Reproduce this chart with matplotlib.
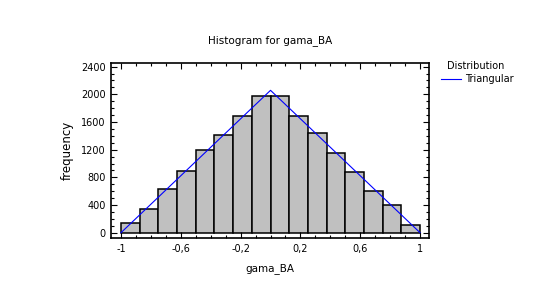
import matplotlib
matplotlib.use("Agg")
import matplotlib.pyplot as plt
from matplotlib.ticker import MultipleLocator, FixedLocator, FuncFormatter
import numpy as np

# Data
bin_edges = [-1.0, -0.875, -0.75, -0.625, -0.5, -0.375, -0.25, -0.125, 0.0,
             0.125, 0.25, 0.375, 0.5, 0.625, 0.75, 0.875, 1.0]
counts = [135, 337, 627, 887, 1195, 1407, 1682, 1971,
          1971, 1682, 1436, 1147, 872, 598, 395, 106]
fit_x = [-1.0, 0.0, 1.0]
fit_y = [0, 2058, 0]
xticks = [-1, -0.6, -0.2, 0.2, 0.6, 1]
yticks = [0, 400, 800, 1200, 1600, 2000, 2400]

plt.rcParams['font.family'] = ['DejaVu Sans']

fig = plt.figure(figsize=(5.4, 3.0), dpi=100)
ax = fig.add_axes([111/540, 1-238/300, (429-111)/540, (238-63)/300])

lefts = np.array(bin_edges[:-1])
widths = np.diff(bin_edges)
ax.bar(lefts, counts, width=widths, align='edge', color='#c0c0c0',
       edgecolor='black', linewidth=1.1)
line, = ax.plot(fit_x, fit_y, color='#0000ff', linewidth=0.8)

ax.set_xlim(-1.067, 1.06)
ax.set_ylim(-77, 2453)

ax.xaxis.set_major_locator(FixedLocator(xticks))
ax.xaxis.set_minor_locator(MultipleLocator(0.1))
ax.yaxis.set_major_locator(FixedLocator(yticks))
ax.yaxis.set_minor_locator(MultipleLocator(100))

def fmt(v, pos):
    if abs(v - round(v)) < 1e-9:
        return str(int(round(v)))
    return ("%.1f" % v).replace('.', ',')
ax.xaxis.set_major_formatter(FuncFormatter(fmt))

ax.tick_params(which='both', direction='in', top=True, right=True,
               labelsize=7, width=0.8, colors='black', pad=4)
ax.tick_params(which='major', length=4)
ax.tick_params(which='minor', length=2.5)
for s in ax.spines.values():
    s.set_linewidth(1.2)

ax.set_title('Histogram for gama_BA', fontsize=7.5, pad=14)
ax.set_ylabel('frequency', fontsize=8.5, labelpad=5)
ax.set_xlabel('gama_BA', fontsize=7.5, labelpad=7)

fig.text(476/540, 1-66/300, 'Distribution', fontsize=7, ha='center', va='center')
fig.lines.append(plt.Line2D([441/540, 461/540], [1-79/300, 1-79/300],
                            transform=fig.transFigure, color='#0000ff', linewidth=0.8))
fig.text(465/540, 1-79/300, 'Triangular', fontsize=7, ha='left', va='center')

fig.savefig('out.png', dpi=100)
